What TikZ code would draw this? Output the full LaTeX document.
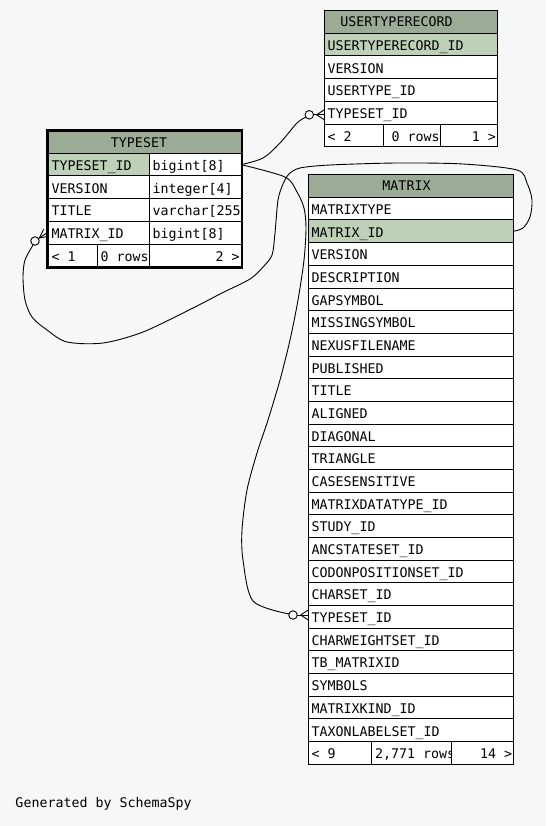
\documentclass[tikz,border=0pt]{standalone}
\usepackage{fontspec}
\setmonofont{DejaVu Sans Mono}
\definecolor{bgc}{HTML}{F7F7F7}
\definecolor{hdc}{HTML}{9BAB96}
\definecolor{pkc}{HTML}{BED1B8}
\tikzset{
  cellbox/.style={rectangle, draw=black, line width=1pt, fill=white, inner sep=0pt, outer sep=0pt, anchor=north west},
  celltxt/.style={inner sep=0pt, outer sep=0pt, font=\ttfamily\fontsize{13.3}{15}\selectfont, text=black, anchor=base west},
  conn/.style={draw=black, line width=0.9pt, line join=round},
  odot/.style={circle, draw=black, line width=0.9pt, minimum size=8.5pt, inner sep=0pt, outer sep=0pt},
}
% name, x, ytop, width, fill, text
\newcommand\ercell[6]{%
  \node[cellbox, fill=#5, minimum width=#4pt, minimum height=22.68pt] (#1) at (#2,#3) {};
  \node[celltxt] (#1t) at ([shift={(3.2,-5.6)}]#1.south west) {#6};}
% name, x, ytop, width, fill (box only)
\newcommand\erbox[5]{%
  \node[cellbox, fill=#5, minimum width=#4pt, minimum height=22.68pt] (#1) at (#2,#3) {};}
\begin{document}
\begin{tikzpicture}[x=1pt,y=-1pt]
\fill[bgc] (0,0) rectangle (546,826);
\useasboundingbox (0,0) rectangle (546,826);

% ---------------- USERTYPERECORD ----------------
\node[cellbox, fill=hdc, minimum width=173pt, minimum height=22.3pt] (uh) at (324.3,11) {};
\node[celltxt, anchor=base] (uht) at (396.5,26.8) {USERTYPERECORD};
\ercell{u1}{324.3}{33.3}{173}{pkc}{USERTYPERECORD\_ID}
\ercell{u2}{324.3}{55.98}{173}{white}{VERSION}
\ercell{u3}{324.3}{78.66}{173}{white}{USERTYPE\_ID}
\ercell{u4}{324.3}{101.34}{173}{white}{TYPESET\_ID}
\ercell{uf1}{324.3}{124.02}{59}{white}{< 2}
\erbox{uf2}{383.3}{124.02}{57}{white}
\node[celltxt] (uf2t) at (391.6,141.1) {0 rows};
\erbox{uf3}{440.3}{124.02}{57}{white}
\node[celltxt, anchor=base east] (uf3t) at (495.8,141.1) {1 >};

% ---------------- TYPESET ----------------
\node[cellbox, fill=hdc, minimum width=192.7pt, minimum height=21.6pt] (th) at (48.3,131.7) {};
\node[celltxt, anchor=base] (tht) at (139,147.3) {TYPESET};
\ercell{t1a}{48.3}{153.3}{101}{pkc}{TYPESET\_ID}
\ercell{t1b}{149.3}{153.3}{91.7}{white}{bigint[8]}
\ercell{t2a}{48.3}{175.98}{101}{white}{VERSION}
\ercell{t2b}{149.3}{175.98}{91.7}{white}{integer[4]}
\ercell{t3a}{48.3}{198.66}{101}{white}{TITLE}
\begin{scope}
  \clip (148.8,198.2) rectangle (241.5,221.8);
  \ercell{t3b}{149.3}{198.66}{91.7}{white}{varchar[255]}
\end{scope}
\ercell{t4a}{48.3}{221.34}{101}{white}{MATRIX\_ID}
\ercell{t4b}{149.3}{221.34}{91.7}{white}{bigint[8]}
\ercell{tf1}{48.3}{244.02}{49}{white}{< 1}
\ercell{tf2}{97.3}{244.02}{52}{white}{0 rows}
\erbox{tf3}{149.3}{244.02}{91.7}{white}
\node[celltxt, anchor=base east] (tf3t) at (239.6,261.1) {2 >};
\draw[line width=2.6pt] (47,130.4) rectangle (242,268);

% ---------------- MATRIX ----------------
\node[cellbox, fill=hdc, minimum width=205pt, minimum height=22.3pt] (mh) at (308.3,175) {};
\node[celltxt, anchor=base] (mht) at (406.5,190.8) {MATRIX};
\foreach \t [count=\i from 0] in {MATRIXTYPE, MATRIX\_ID, VERSION, DESCRIPTION, GAPSYMBOL,
  MISSINGSYMBOL, NEXUSFILENAME, PUBLISHED, TITLE, ALIGNED, DIAGONAL, TRIANGLE,
  CASESENSITIVE, MATRIXDATATYPE\_ID, STUDY\_ID, ANCSTATESET\_ID, CODONPOSITIONSET\_ID,
  CHARSET\_ID, TYPESET\_ID, CHARWEIGHTSET\_ID, TB\_MATRIXID, SYMBOLS, MATRIXKIND\_ID,
  TAXONLABELSET\_ID} {
  \pgfmathsetmacro\yy{197.3+\i*22.68}
  \ifnum\i=1 \def\ff{pkc}\else\def\ff{white}\fi
  \ercell{m\i}{308.3}{\yy}{205}{\ff}{\t}
}
\ercell{mf1}{308.3}{741.62}{63.4}{white}{< 9}
\erbox{mf2}{371.7}{741.62}{80}{white}
\begin{scope}
  \clip (371.7,741) rectangle (451.2,764.5);
  \node[celltxt] (mf2t) at (375,758.7) {2,771 rows};
\end{scope}
\erbox{mf3}{451.7}{741.62}{61.6}{white}
\node[celltxt, anchor=base east] (mf3t) at (512.2,758.7) {14 >};

% ---------------- footer text ----------------
\node[celltxt] (gen) at (15.5,807.3) {Generated by SchemaSpy};

% ---------------- connectors ----------------
\node[odot] (o1) at (309.3,114.8) {};
\node[odot] (o2) at (293,615) {};
\node[odot] (o3) at (35,241) {};

% TYPESET.TYPESET_ID -> USERTYPERECORD.TYPESET_ID
\draw[conn] plot[smooth, tension=0.55] coordinates {(t1b.east) (263,158) (280,143) (297,123) (o1.215)};
\draw[conn] (o1.east) -- (324.3,114.8);
\draw[conn] (324.3,109.8) -- (316.6,114.8) -- (324.3,119.8);

% TYPESET.TYPESET_ID -> MATRIX.TYPESET_ID
\draw[conn] plot[smooth, tension=0.5] coordinates {(t1b.east) (285,177) (297,192) (304,208) (306,228)
  (304,260) (298,300) (290,340) (280,380) (268,420) (257,453) (247,490) (242,530) (243,560)
  (253,601) (o2.165)};
\draw[conn] (o2.east) -- (m18.west |- o2);
\draw[conn] (308.3,610) -- (300.6,615) -- (308.3,620);

% MATRIX.MATRIX_ID -> TYPESET.MATRIX_ID
\draw[conn] plot[smooth, tension=0.5] coordinates {(m1.east) (523,228) (530,217) (532,200) (527,183)
  (517,170) (463,164) (397,163) (330,165) (300,168) (289,174) (283,184) (278,200) (275,233)
  (272,255) (263,267) (250,279) (222,293) (193,308) (143,332) (103,343) (67,342)
  (47,330) (32,317) (25,300) (23,277) (25,260) (o3.245)};
\draw[conn] (o3.36) -- (46.5,233.2);
\draw[conn] (43.6,229.4) -- (39.3,238) -- (47.2,236.6);
\end{tikzpicture}
\end{document}
